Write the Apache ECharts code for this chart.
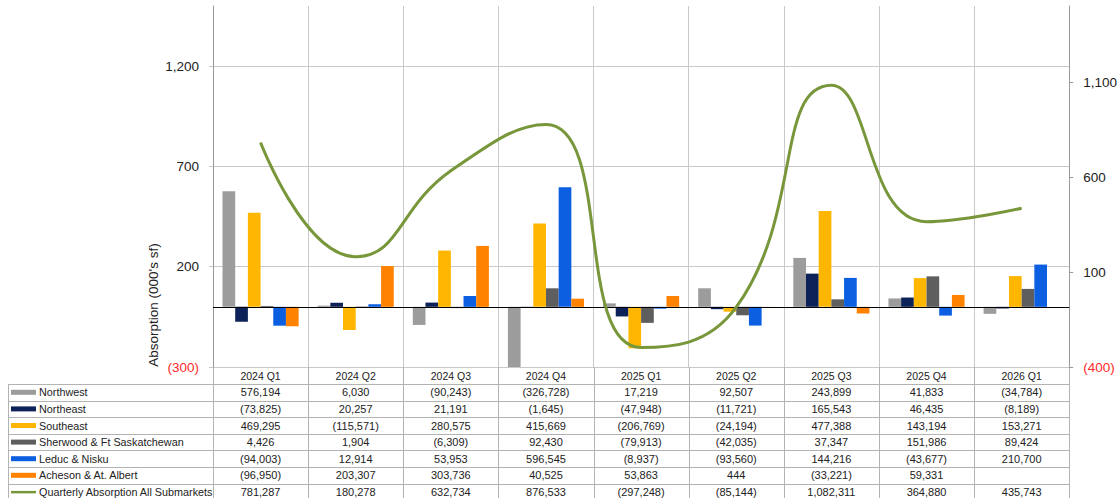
<!DOCTYPE html>
<html>
<head>
<meta charset="utf-8">
<script src="https://cdn.jsdelivr.net/npm/echarts@6/dist/echarts.min.js"></script>
<style>
  html, body { margin: 0; padding: 0; background: #fff; }
  #chart { width: 1120px; height: 498px; }
</style>
</head>
<body>
<div id="chart"></div>
<script>
// Quarterly net absorption by submarket (sf)
const categories = ['2024 Q1', '2024 Q2', '2024 Q3', '2024 Q4', '2025 Q1', '2025 Q2', '2025 Q3', '2025 Q4', '2026 Q1'];
const northwest = [576194, 6030, -90243, -326728, 17219, 92507, 243899, 41833, -34784];
const northeast = [-73825, 20257, 21191, -1645, -47948, -11721, 165543, 46435, -8189];
const southeast = [469295, -115571, 280575, 415669, -206769, -24194, 477388, 143194, 153271];
const sherwood = [4426, 1904, -6309, 92430, -79913, -42035, 37347, 151986, 89424];
const leduc = [-94003, 12914, 53953, 596545, -8937, -93560, 144216, -43677, 210700];
const acheson = [-96950, 203307, 303736, 40525, 53863, 444, -33221, 59331, null];
const totalAbsorption = [781287, 180278, 632734, 876533, -297248, -85144, 1082311, 364880, 435743];

const barSeries = [
  { name: 'Northwest', data: northwest, color: '#9c9c9c' },
  { name: 'Northeast', data: northeast, color: '#0d2258' },
  { name: 'Southeast', data: southeast, color: '#ffb600' },
  { name: 'Sherwood & Ft Saskatchewan', data: sherwood, color: '#5e5e5e' },
  { name: 'Leduc & Nisku', data: leduc, color: '#0b5fe0' },
  { name: 'Acheson & At. Albert', data: acheson, color: '#ff8200' }
];
const lineSeries = { name: 'Quarterly Absorption All Submarkets', data: totalAbsorption, color: '#78973b' };

const FONT = '"Liberation Sans", Arial, Helvetica, sans-serif';
const GRID = { left: 213, right: 47, top: 6, bottom: 131 };
const GRID_COLOR = '#c9c9c9';
const TABLE_COLOR = '#b3b3b3';

function fmtThousands(v) {
  const s = Math.round(Math.abs(v) / 1000).toLocaleString('en-US');
  return v < 0 ? '(' + s + ')' : s;
}
function fmtFull(v) {
  if (v === null || v === undefined) return '';
  const s = Math.abs(v).toLocaleString('en-US');
  return v < 0 ? '(' + s + ')' : s;
}
const negRed = v => (v < 0 ? '#ff2a2a' : '#222');

const chart = echarts.init(document.getElementById('chart'), null, { renderer: 'svg' });

const series = barSeries.map((s, i) => ({
  name: s.name,
  type: 'bar',
  yAxisIndex: 0,
  data: s.data,
  itemStyle: { color: s.color },
  barGap: '0%',
  barCategoryGap: '20%',
  markLine: i === 0 ? {
    silent: true,
    symbol: ['none', 'none'],
    label: { show: false },
    lineStyle: { color: '#000', width: 1, type: 'solid' },
    data: [{ yAxis: 0 }]
  } : undefined
}));
series.push({
  name: lineSeries.name,
  type: 'line',
  yAxisIndex: 1,
  data: lineSeries.data,
  smooth: 0.5,
  symbol: 'none',
  lineStyle: { color: lineSeries.color, width: 3 },
  itemStyle: { color: lineSeries.color },
  z: 5
});

chart.setOption({
  animation: false,
  textStyle: { fontFamily: FONT },
  grid: GRID,
  xAxis: {
    type: 'category',
    data: categories,
    axisLine: { show: false },
    axisTick: { show: false },
    axisLabel: { fontSize: 10.5, color: '#222', margin: 3 },
    splitLine: { show: true, lineStyle: { color: GRID_COLOR, width: 1 } }
  },
  yAxis: [
    {
      type: 'value',
      min: -300000, max: 1500000, interval: 500000,
      axisLine: { show: true, lineStyle: { color: '#999' } },
      axisTick: { show: true, length: 4, lineStyle: { color: GRID_COLOR } },
      axisLabel: {
        fontSize: 13.5, margin: 14, showMaxLabel: false,
        formatter: fmtThousands,
        color: negRed
      },
      splitLine: { show: true, showMaxLine: false, lineStyle: { color: GRID_COLOR, width: 1 } }
    },
    {
      type: 'value',
      min: -400000, max: 1500000, interval: 500000,
      axisLine: { show: true, lineStyle: { color: '#999' } },
      axisTick: { show: true, length: 4, lineStyle: { color: '#999' } },
      axisLabel: {
        fontSize: 13.5, margin: 14, showMaxLabel: false,
        formatter: fmtThousands,
        color: negRed
      },
      splitLine: { show: false }
    }
  ],
  series: series
});

// Data table beneath the plot, aligned to the category bands
function buildTable() {
  const els = [];
  const x0 = chart.convertToPixel({ xAxisIndex: 0 }, 0);
  const x1 = chart.convertToPixel({ xAxisIndex: 0 }, 1);
  const band = x1 - x0;
  const plotLeft = x0 - band / 2;
  const plotRight = plotLeft + band * categories.length;
  const headerTop = chart.convertToPixel({ yAxisIndex: 0 }, -300000);
  const rowTop = headerTop + 17;
  const rowH = 16.6;
  const tableLeft = 8;
  const rows = barSeries.concat([lineSeries]);

  // vertical column lines through header and body
  for (let i = 0; i <= categories.length; i++) {
    const x = Math.round(plotLeft + i * band) + 0.5;
    els.push({ type: 'line', silent: true, shape: { x1: x, y1: headerTop, x2: x, y2: 498 },
      style: { stroke: TABLE_COLOR, lineWidth: 1 } });
  }
  // left border
  els.push({ type: 'line', silent: true, shape: { x1: tableLeft + 0.5, y1: rowTop, x2: tableLeft + 0.5, y2: 498 },
    style: { stroke: TABLE_COLOR, lineWidth: 1 } });
  // row lines
  for (let r = 0; r <= rows.length; r++) {
    const y = Math.round(rowTop + r * rowH) + 0.5;
    els.push({ type: 'line', silent: true, shape: { x1: tableLeft, y1: y, x2: plotRight, y2: y },
      style: { stroke: TABLE_COLOR, lineWidth: 1 } });
  }
  rows.forEach((s, r) => {
    const cy = rowTop + r * rowH + rowH / 2;
    if (s === lineSeries) {
      els.push({ type: 'rect', silent: true, shape: { x: 11, y: cy - 1, width: 25, height: 2.5 },
        style: { fill: s.color } });
    } else {
      els.push({ type: 'rect', silent: true, shape: { x: 11, y: cy - 2.5, width: 25, height: 5 },
        style: { fill: s.color } });
    }
    els.push({ type: 'text', silent: true, x: 39, y: cy,
      style: { text: s.name, font: '10.8px ' + FONT, fill: '#222', textVerticalAlign: 'middle', verticalAlign: 'middle', textAlign: 'left', align: 'left' } });
    s.data.forEach((v, i) => {
      els.push({ type: 'text', silent: true, x: plotLeft + (i + 0.5) * band, y: cy,
        style: { text: fmtFull(v), font: '11px ' + FONT, fill: '#222', align: 'center', verticalAlign: 'middle', textAlign: 'center', textVerticalAlign: 'middle' } });
    });
  });

  // axis title
  els.push({ type: 'text', silent: true, x: 153, y: 305, rotation: Math.PI / 2,
    style: { text: "Absorption (000's sf)", font: '13.5px ' + FONT, fill: '#222', align: 'center', verticalAlign: 'middle', textAlign: 'center', textVerticalAlign: 'middle' } });

  chart.setOption({ graphic: { elements: els } });
}
buildTable();
</script>
</body>
</html>
